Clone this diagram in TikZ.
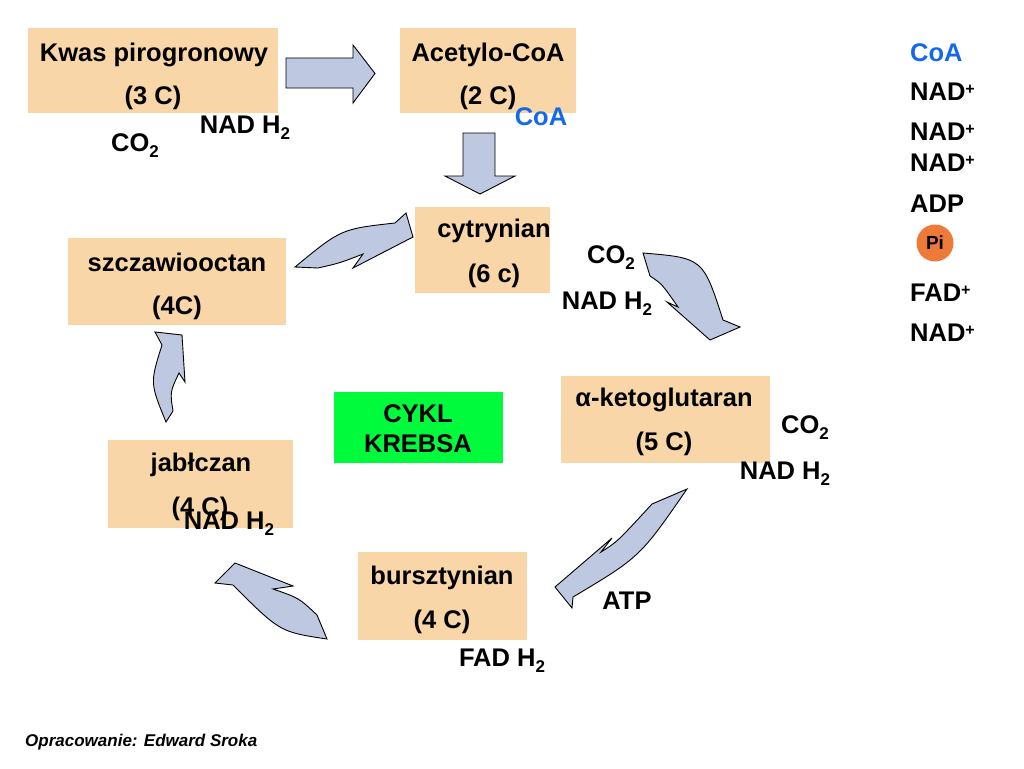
\documentclass[tikz,border=0pt]{standalone}
\usepackage{fontspec}
\setmainfont{Liberation Sans}
\definecolor{wheat}{RGB}{249,214,168}
\definecolor{arrowblue}{RGB}{190,200,224}
\definecolor{coablue}{RGB}{20,105,235}
\definecolor{krebsgreen}{RGB}{0,250,60}
\definecolor{piorange}{RGB}{238,122,58}
\newcommand{\chemsub}[1]{\raisebox{-0.25em}{\fontsize{17}{20}\selectfont #1}}
\newcommand{\chemsup}[1]{\raisebox{0.22em}{\fontsize{16}{19}\selectfont #1}}

\begin{document}
\begin{tikzpicture}[x=1pt,y=-1pt]
\tikzstyle{every node}=[font=\bfseries\fontsize{25.5}{30}\selectfont,inner sep=0pt]
\tikzstyle{box}=[fill=wheat]
\tikzstyle{blockarrow}=[fill=arrowblue,draw=black,line width=0.9pt,line join=miter]
\useasboundingbox (0,0) rectangle (1024,768);

\fill[box](28,28) rectangle (278,113);
\fill[box](400,28) rectangle (576,113);
\fill[box](415,207) rectangle (550,293);
\fill[box](68,238) rectangle (286,325);
\fill[box](561,376) rectangle (770,463);
\fill[box](108,440) rectangle (293,528);
\fill[box](358,552) rectangle (527,640);
\fill[krebsgreen](334,392) rectangle (503,463);

\draw[blockarrow](286,58)--(353,58)--(353,45)--(375,73.5)--(353,103)--(353,88)--(286,88)--cycle;
\draw[blockarrow](463,133)--(495,133)--(495,176)--(515,176)--(480,194)--(445,176)--(463,176)--cycle;

\draw[blockarrow](295,267) .. controls (341,229) .. (395,223)--(406,213)--(413,237)--(353,268)--(363,254) .. controls (340,263) .. (318,268)--cycle;
\draw[blockarrow](643,253) .. controls (703,258) .. (723,320)--(740,327)--(710,340)--(667,302)--(678,307) .. controls (662,284) .. (650,276)--cycle;
\draw[blockarrow](687,489) .. controls (640,557) .. (573,597)--(572,608)--(555,587)--(612,538)--(601,552) .. controls (617,542) .. (652,504)--cycle;
\draw[blockarrow](327,639) .. controls (280,632) .. (233,585)--(215,583)--(235,563)--(293,586)--(273,589) .. controls (299,598) .. (317,615)--cycle;
\draw[blockarrow](166,422) .. controls (150,383) .. (162,345)--(155,332)--(182,335)--(185,382)--(179,373) .. controls (170,392) .. (173,411)--cycle;

\node[anchor=base](pirogronian) at (154,61){Kwas pirogronowy};
\node[anchor=base](pirogronianc) at (153,104){(3 C)};
\node[anchor=base](nadpir) at (245,133){NAD H\chemsub{2}};
\node[anchor=base](copir) at (135,151){CO\chemsub{2}};
\node[anchor=base](acetyl) at (488,61){Acetylo-CoA};
\node[anchor=base](acetylc) at (488,104){(2 C)};
\node[anchor=base,text=coablue](coaacetyl) at (541,125){CoA};

\node[anchor=base](cytrynian) at (494,237){cytrynian};
\node[anchor=base](cytrynianc) at (494,282){(6 c)};
\node[anchor=base](cocyt) at (611,263){CO\chemsub{2}};
\node[anchor=base](nadcyt) at (607,309){NAD H\chemsub{2}};

\node[anchor=base](szczaw) at (177,271){szczawiooctan};
\node[anchor=base](szczawc) at (177,314){(4C)};

\node[anchor=base](keto) at (664,406){α-ketoglutaran};
\node[anchor=base](ketoc) at (664,450){(5 C)};
\node[anchor=base](coketo) at (805,433){CO\chemsub{2}};
\node[anchor=base](nadketo) at (785,479){NAD H\chemsub{2}};

\node[anchor=base](cykl) at (418,422){CYKL};
\node[anchor=base](krebsa) at (418,452){KREBSA};

\node[anchor=base](jablczan) at (201,471){jabłczan};
\node[anchor=base](jablczanc) at (200,515){(4 C)};
\node[anchor=base](nadjab) at (229,529){NAD H\chemsub{2}};

\node[anchor=base](bursztynian) at (442,584){bursztynian};
\node[anchor=base](bursztynianc) at (442,628){(4 C)};
\node[anchor=base](fadburs) at (502,666){FAD H\chemsub{2}};
\node[anchor=base](atp) at (627,609){ATP};

\node[anchor=base west,text=coablue](coa) at (910,62){CoA};
\node[anchor=base west](nada) at (910,100){NAD\chemsup{+}};
\node[anchor=base west](nadb) at (910,140){NAD\chemsup{+}};
\node[anchor=base west](nadc) at (910,171){NAD\chemsup{+}};
\node[anchor=base west](adp) at (910,212){ADP};
\node[circle,fill=piorange,minimum size=37,font=\bfseries\fontsize{19}{22}\selectfont](pi) at (935,243){Pi};
\node[anchor=base west](fad) at (910,301){FAD\chemsup{+}};
\node[anchor=base west](nadd) at (910,341){NAD\chemsup{+}};

\node[anchor=base west,font=\bfseries\itshape\fontsize{17}{20}\selectfont](autor) at (25,746){Opracowanie: Edward Sroka};
\end{tikzpicture}
\end{document}
